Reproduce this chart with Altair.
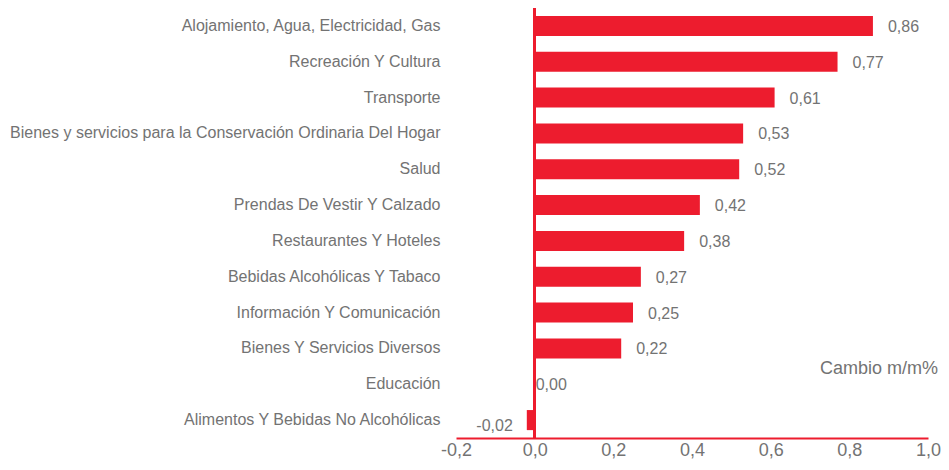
import altair as alt
import pandas as pd

categories = [
    "Alojamiento, Agua, Electricidad, Gas",
    "Recreación Y Cultura",
    "Transporte",
    "Bienes y servicios para la Conservación Ordinaria Del Hogar",
    "Salud",
    "Prendas De Vestir Y Calzado",
    "Restaurantes Y Hoteles",
    "Bebidas Alcohólicas Y Tabaco",
    "Información Y Comunicación",
    "Bienes Y Servicios Diversos",
    "Educación",
    "Alimentos Y Bebidas No Alcohólicas",
]
values = [0.86, 0.77, 0.61, 0.53, 0.52, 0.42, 0.38, 0.27, 0.25, 0.22, 0.00, -0.02]
tick_values = [-0.2, 0.0, 0.2, 0.4, 0.6, 0.8, 1.0]

df = pd.DataFrame({"cat": categories, "val": values})
df["lbl"] = df["val"].map(lambda v: f"{v:.2f}".replace(".", ","))

RED = "#ED1C2E"
GRAY = "#737373"
FONT = "Liberation Sans"

base = alt.Chart(df)

x_enc = alt.X(
    "val:Q",
    scale=alt.Scale(domain=[-0.2, 1.0], nice=False, zero=False),
    axis=alt.Axis(
        values=tick_values,
        labelExpr="replace(replace(format(datum.value, '.1f'), '.', ','), '\u2212', '-')",
        domainColor=RED, domainWidth=2, ticks=False, grid=False,
        labelFontSize=18, labelColor=GRAY, labelFont=FONT,
        labelPadding=3, title=None, labelFlush=False,
    ),
)
y_enc = alt.Y(
    "cat:N", sort=categories,
    scale=alt.Scale(paddingInner=0.44, paddingOuter=0.22),
    axis=alt.Axis(
        domain=False, ticks=False, grid=False, title=None,
        labelFontSize=16, labelColor=GRAY, labelFont=FONT,
        labelPadding=16, labelLimit=600,
    ),
)

bars = base.mark_bar(color=RED).encode(x=x_enc, y=y_enc)

zero_rule = base.mark_rule(color=RED, strokeWidth=2).encode(x=alt.datum(0))

txt_style = dict(fontSize=16, color=GRAY, font=FONT, baseline="middle")
pos_lbl = base.transform_filter("datum.val > 0").mark_text(
    align="left", dx=15, dy=1, **txt_style
).encode(x="val:Q", y=alt.Y("cat:N", sort=categories), text="lbl:N")
zero_lbl = base.transform_filter("datum.val == 0").mark_text(
    align="left", dx=1, dy=1, **txt_style
).encode(x="val:Q", y=alt.Y("cat:N", sort=categories), text="lbl:N")
neg_lbl = base.transform_filter("datum.val < 0").mark_text(
    align="right", dx=-14, dy=6, **txt_style
).encode(x="val:Q", y=alt.Y("cat:N", sort=categories), text="lbl:N")

note = alt.Chart(pd.DataFrame({"t": ["Cambio m/m%"]})).mark_text(
    fontSize=18, color=GRAY, font=FONT, align="center", baseline="middle"
).encode(x=alt.value(423), y=alt.value(361), text="t:N")

chart = alt.layer(bars, zero_rule, pos_lbl, zero_lbl, neg_lbl, note).properties(
    width=472, height=430,
    autosize=alt.AutoSizeParams(type="none"),
    padding={"left": 448, "top": 0, "right": 13, "bottom": 24},
).configure_view(stroke=None)

chart.save("out.html", embed_options={"renderer": "svg", "actions": False})
